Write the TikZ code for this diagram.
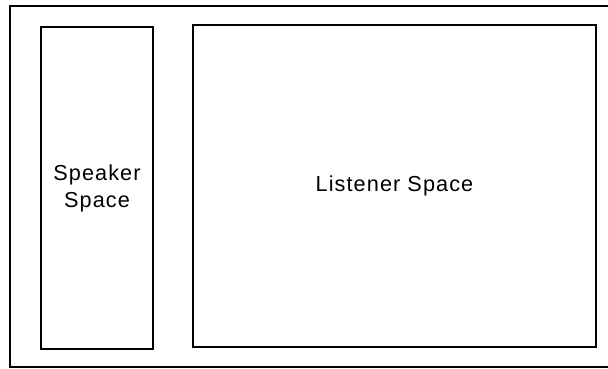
\documentclass[tikz,border=0pt]{standalone}
\usepackage{fontspec}
\setmainfont{Liberation Sans}[LetterSpace=5]
\usepackage{tikz}
\usetikzlibrary{positioning}

\begin{document}
\begin{tikzpicture}[
  x=0.03cm,y=-0.03cm,
  space/.style={draw,line width=1.3pt,align=center,inner sep=0pt,
    font=\fontsize{18.5}{23}\selectfont},
  frame/.style={draw,line width=1pt}
]
  \useasboundingbox (0,0) rectangle (608,369);
  % frame, open at the right edge
  \draw[frame] (612,6) -- (10,6) -- (10,367) -- (612,367);

  \node[space,minimum width=3.36cm,minimum height=9.66cm] (speaker) at (97,188) {Speaker\\Space};
  \node[space,minimum width=12.09cm,minimum height=9.66cm] (listener) at (394.5,186) {Listener Space};
\end{tikzpicture}
\end{document}
